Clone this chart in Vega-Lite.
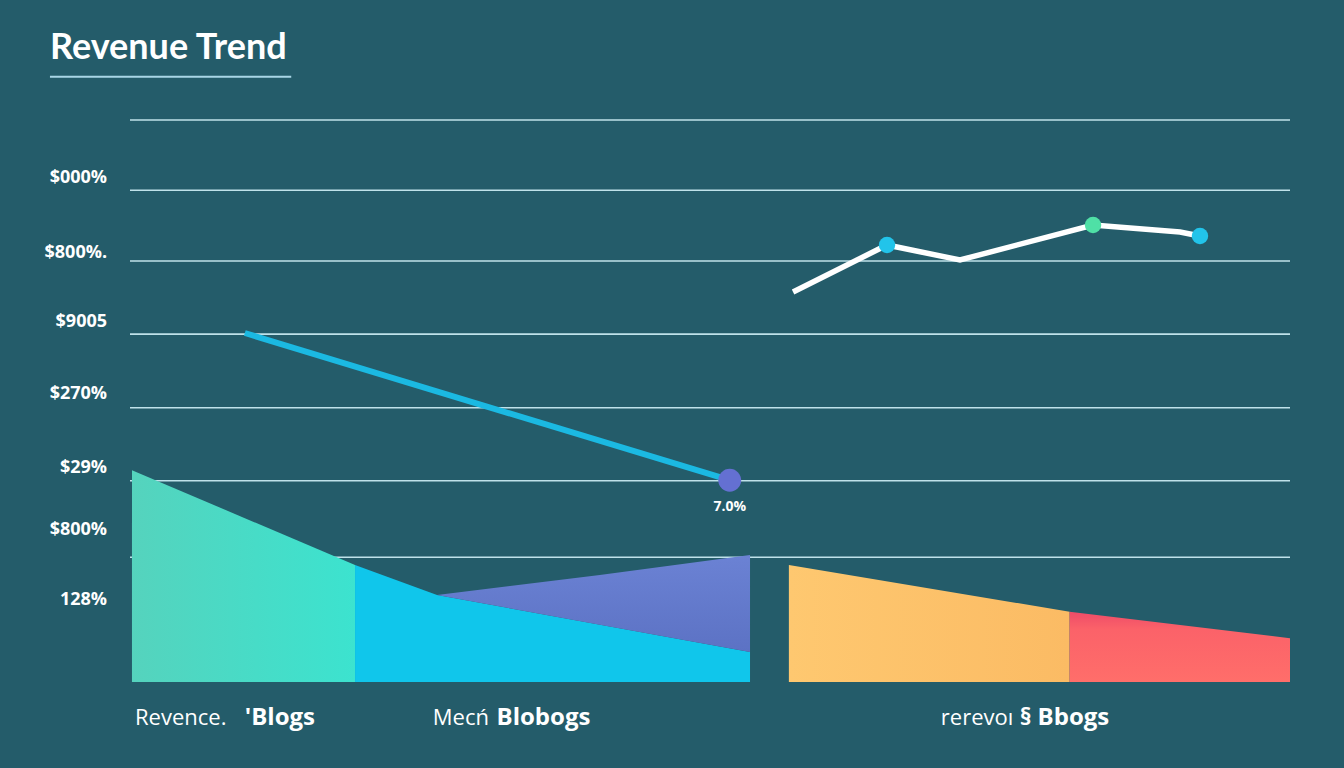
{
  "$schema": "https://vega.github.io/schema/vega-lite/v6.json",
  "width": 1160,
  "height": 562,
  "padding": {"left": 130, "top": 120, "right": 54, "bottom": 86},
  "autosize": {"type": "none"},
  "background": "#245c6a",
  "config": {"view": {"stroke": null}},
  "datasets": {
    "title": [{"label": "Revenue Trend", "t": -6.9, "v": 112.9}],
    "grid": [{"v": 100}, {"v": 87.5}, {"v": 74.9}, {"v": 61.9}, {"v": 48.8}, {"v": 35.8}, {"v": 22.2}],
    "ylabels": [
      {"label": "$000%", "v": 89.7}, {"label": "$800%.", "v": 76.3}, {"label": "$9005", "v": 64.1},
      {"label": "$270%", "v": 51.2}, {"label": "$29%", "v": 38.1}, {"label": "$800%", "v": 27.0}, {"label": "128%", "v": 14.6}
    ],
    "teal": [{"t": 0.17, "v": 37.7}, {"t": 19.4, "v": 20.8}],
    "cyan": [{"t": 19.4, "v": 20.8}, {"t": 26.47, "v": 15.48}, {"t": 53.45, "v": 5.34}],
    "purple": [{"t": 26.47, "v": 15.48, "b": 15.48}, {"t": 40.5, "v": 19.04, "b": 10.2}, {"t": 53.45, "v": 22.6, "b": 5.34}],
    "orange": [{"t": 56.8, "v": 20.8}, {"t": 81.0, "v": 12.5}],
    "red": [{"t": 81.0, "v": 12.5}, {"t": 100, "v": 7.8}],
    "cyanline": [{"t": 9.9, "v": 62.1}, {"t": 51.7, "v": 35.9}],
    "whiteline": [{"t": 57.16, "v": 69.4}, {"t": 65.26, "v": 77.76}, {"t": 71.55, "v": 75.09}, {"t": 83.02, "v": 81.32}, {"t": 90.52, "v": 80.07}, {"t": 92.24, "v": 79.36}],
    "endpoint": [{"t": 51.7, "v": 35.9, "label": "7.0%"}],
    "dots": [{"t": 65.26, "v": 77.76, "k": "a"}, {"t": 83.02, "v": 81.32, "k": "b"}, {"t": 92.24, "v": 79.36, "k": "a"}],
    "regular": [{"label": "Revence.", "t": 0.43}, {"label": "Mecń", "t": 26.1}, {"label": "rerevoı", "t": 69.9}],
    "bold": [{"label": "'Blogs", "t": 9.9}, {"label": "Blobogs", "t": 31.6}, {"label": "§ Bbogs", "t": 76.7}]
  },
  "layer": [
    {
      "data": {"name": "grid"},
      "mark": {"type": "rule", "color": "#bfe2ea", "strokeWidth": 1.6},
      "encoding": {"y": {"field": "v", "type": "quantitative", "scale": {"domain": [0, 100], "nice": false, "zero": false}, "axis": null}}
    },
    {
      "data": {"name": "ylabels"},
      "mark": {"type": "text", "align": "right", "baseline": "middle", "color": "#ffffff", "font": "Open Sans", "fontWeight": "bold", "fontSize": 18},
      "encoding": {
        "x": {"datum": -1.98, "type": "quantitative", "scale": {"domain": [0, 100], "nice": false, "zero": false}, "axis": null},
        "y": {"field": "v", "type": "quantitative"},
        "text": {"field": "label"}
      }
    },
    {
      "data": {"name": "title"},
      "mark": {"type": "text", "align": "left", "baseline": "middle", "color": "#ffffff", "font": "Lato", "fontWeight": "bold", "fontSize": 36},
      "encoding": {"x": {"field": "t", "type": "quantitative"}, "y": {"field": "v", "type": "quantitative"}, "text": {"field": "label"}}
    },
    {
      "data": {"name": "teal"},
      "mark": {"type": "area", "color": {"gradient": "linear", "x1": 0, "x2": 1, "y1": 0, "y2": 0, "stops": [{"offset": 0, "color": "#55d3bd"}, {"offset": 1, "color": "#3ce3cf"}]}},
      "encoding": {"x": {"field": "t", "type": "quantitative"}, "y": {"field": "v", "type": "quantitative"}}
    },
    {
      "data": {"name": "cyan"},
      "mark": {"type": "area", "color": "#10c6eb"},
      "encoding": {"x": {"field": "t", "type": "quantitative"}, "y": {"field": "v", "type": "quantitative"}}
    },
    {
      "data": {"name": "purple"},
      "mark": {"type": "area", "color": {"gradient": "linear", "x1": 0, "x2": 0, "y1": 0, "y2": 1, "stops": [{"offset": 0, "color": "#6b82d4"}, {"offset": 1, "color": "#5c72c4"}]}},
      "encoding": {"x": {"field": "t", "type": "quantitative"}, "y": {"field": "v", "type": "quantitative"}, "y2": {"field": "b"}}
    },
    {
      "data": {"name": "orange"},
      "mark": {"type": "area", "color": {"gradient": "linear", "x1": 0, "x2": 1, "y1": 0, "y2": 0, "stops": [{"offset": 0, "color": "#fec870"}, {"offset": 1, "color": "#fbbb64"}]}},
      "encoding": {"x": {"field": "t", "type": "quantitative"}, "y": {"field": "v", "type": "quantitative"}}
    },
    {
      "data": {"name": "red"},
      "mark": {"type": "area", "color": {"gradient": "linear", "x1": 0, "x2": 0, "y1": 0, "y2": 1, "stops": [{"offset": 0, "color": "#ee4c68"}, {"offset": 0.25, "color": "#fb6269"}, {"offset": 1, "color": "#ff6e6a"}]}},
      "encoding": {"x": {"field": "t", "type": "quantitative"}, "y": {"field": "v", "type": "quantitative"}}
    },
    {
      "data": {"name": "cyanline"},
      "mark": {"type": "line", "color": "#1bb9e2", "strokeWidth": 6},
      "encoding": {"x": {"field": "t", "type": "quantitative"}, "y": {"field": "v", "type": "quantitative"}}
    },
    {
      "data": {"name": "endpoint"},
      "mark": {"type": "circle", "color": "#6470d2", "opacity": 1, "size": 520},
      "encoding": {"x": {"field": "t", "type": "quantitative"}, "y": {"field": "v", "type": "quantitative"}}
    },
    {
      "data": {"name": "endpoint"},
      "mark": {"type": "text", "color": "#ffffff", "font": "Open Sans", "fontSize": 14, "fontWeight": "bold", "dy": 27},
      "encoding": {"x": {"field": "t", "type": "quantitative"}, "y": {"field": "v", "type": "quantitative"}, "text": {"field": "label"}}
    },
    {
      "data": {"name": "whiteline"},
      "mark": {"type": "line", "color": "#ffffff", "strokeWidth": 5.5, "strokeJoin": "miter"},
      "encoding": {"x": {"field": "t", "type": "quantitative"}, "y": {"field": "v", "type": "quantitative"}}
    },
    {
      "data": {"name": "dots"},
      "mark": {"type": "circle", "opacity": 1, "size": 270},
      "encoding": {
        "x": {"field": "t", "type": "quantitative"},
        "y": {"field": "v", "type": "quantitative"},
        "color": {"field": "k", "type": "nominal", "scale": {"domain": ["a", "b"], "range": ["#22c4ea", "#4fe0a6"]}, "legend": null}
      }
    },
    {
      "data": {"name": "regular"},
      "mark": {"type": "text", "align": "left", "baseline": "middle", "color": "#ffffff", "font": "Open Sans", "fontSize": 22},
      "encoding": {"x": {"field": "t", "type": "quantitative"}, "y": {"datum": -6.4, "type": "quantitative"}, "text": {"field": "label"}}
    },
    {
      "data": {"name": "bold"},
      "mark": {"type": "text", "align": "left", "baseline": "middle", "color": "#ffffff", "font": "Open Sans", "fontWeight": "bold", "fontSize": 24},
      "encoding": {"x": {"field": "t", "type": "quantitative"}, "y": {"datum": -6.4, "type": "quantitative"}, "text": {"field": "label"}}
    },
    {
      "data": {"values": [{}]},
      "mark": {"type": "rule", "color": "#a9d6e6", "strokeWidth": 2},
      "encoding": {"x": {"datum": -6.9, "type": "quantitative"}, "x2": {"datum": 13.9}, "y": {"datum": 107.7, "type": "quantitative"}}
    }
  ]
}
